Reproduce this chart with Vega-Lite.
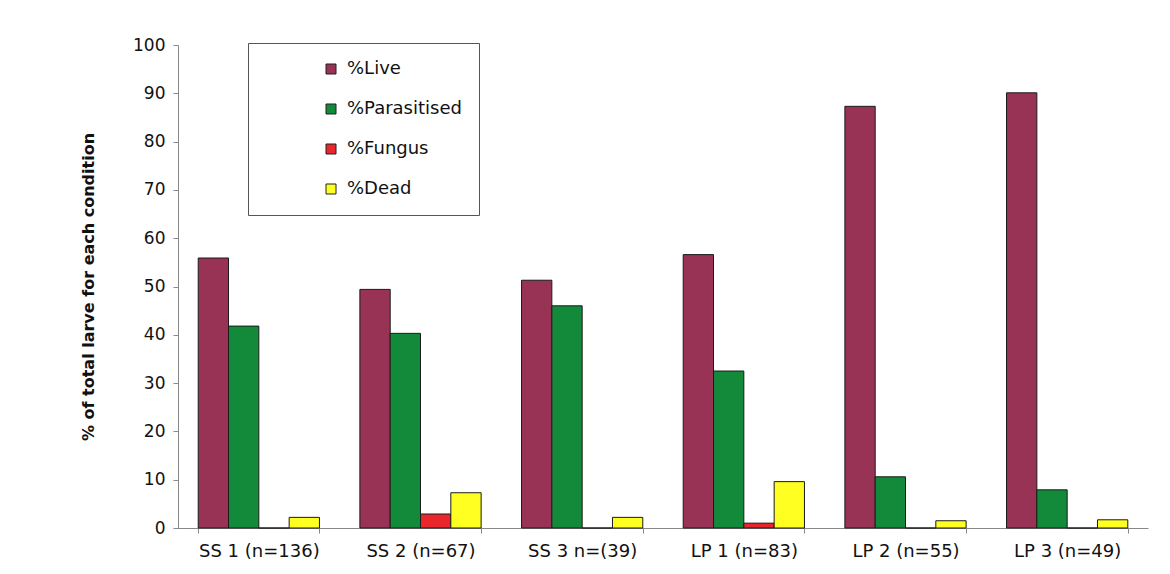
{
  "$schema": "https://vega.github.io/schema/vega-lite/v6.json",
  "autosize": {"type": "none"},
  "padding": {"left": 178, "top": 45, "right": 22, "bottom": 46},
  "width": 970,
  "height": 483,
  "background": "white",
  "config": {
    "font": "DejaVu Sans",
    "view": {"stroke": null}
  },
  "data": {
    "values": [
      {"condition": "SS 1 (n=136)", "category": "%Live", "value": 55.9},
      {"condition": "SS 1 (n=136)", "category": "%Parasitised", "value": 41.8},
      {"condition": "SS 1 (n=136)", "category": "%Fungus", "value": 0},
      {"condition": "SS 1 (n=136)", "category": "%Dead", "value": 2.2},
      {"condition": "SS 2 (n=67)", "category": "%Live", "value": 49.4},
      {"condition": "SS 2 (n=67)", "category": "%Parasitised", "value": 40.3},
      {"condition": "SS 2 (n=67)", "category": "%Fungus", "value": 2.9},
      {"condition": "SS 2 (n=67)", "category": "%Dead", "value": 7.3},
      {"condition": "SS 3 n=(39)", "category": "%Live", "value": 51.3},
      {"condition": "SS 3 n=(39)", "category": "%Parasitised", "value": 46.0},
      {"condition": "SS 3 n=(39)", "category": "%Fungus", "value": 0},
      {"condition": "SS 3 n=(39)", "category": "%Dead", "value": 2.2},
      {"condition": "LP 1 (n=83)", "category": "%Live", "value": 56.6},
      {"condition": "LP 1 (n=83)", "category": "%Parasitised", "value": 32.5},
      {"condition": "LP 1 (n=83)", "category": "%Fungus", "value": 1.0},
      {"condition": "LP 1 (n=83)", "category": "%Dead", "value": 9.6},
      {"condition": "LP 2 (n=55)", "category": "%Live", "value": 87.3},
      {"condition": "LP 2 (n=55)", "category": "%Parasitised", "value": 10.6},
      {"condition": "LP 2 (n=55)", "category": "%Fungus", "value": 0},
      {"condition": "LP 2 (n=55)", "category": "%Dead", "value": 1.5},
      {"condition": "LP 3 (n=49)", "category": "%Live", "value": 90.1},
      {"condition": "LP 3 (n=49)", "category": "%Parasitised", "value": 7.9},
      {"condition": "LP 3 (n=49)", "category": "%Fungus", "value": 0},
      {"condition": "LP 3 (n=49)", "category": "%Dead", "value": 1.7}
    ]
  },
  "mark": {"type": "bar", "stroke": "#1a1a1a", "strokeWidth": 1},
  "encoding": {
    "x": {
      "field": "condition",
      "type": "nominal",
      "sort": ["SS 1 (n=136)", "SS 2 (n=67)", "SS 3 n=(39)", "LP 1 (n=83)", "LP 2 (n=55)", "LP 3 (n=49)"],
      "scale": {"paddingInner": 0.25, "paddingOuter": 0.125},
      "axis": {
        "title": null,
        "labelAngle": 0,
        "labelFontSize": 18,
        "labelColor": "#111",
        "labelPadding": 9,
        "tickBand": "extent",
        "tickSize": 5,
        "tickColor": "#888",
        "domainColor": "#888"
      }
    },
    "xOffset": {
      "field": "category",
      "type": "nominal",
      "sort": ["%Live", "%Parasitised", "%Fungus", "%Dead"],
      "scale": {"paddingInner": 0, "paddingOuter": 0}
    },
    "y": {
      "field": "value",
      "type": "quantitative",
      "scale": {"domain": [0, 100], "nice": false},
      "axis": {
        "title": "% of total larve for each condition",
        "titleFontSize": 16,
        "titleFontWeight": "bold",
        "titleColor": "#111",
        "titlePadding": 36,
        "values": [0, 10, 20, 30, 40, 50, 60, 70, 80, 90, 100],
        "labelFontSize": 17,
        "labelColor": "#111",
        "labelPadding": 8,
        "tickSize": 5,
        "tickColor": "#888",
        "domainColor": "#888",
        "grid": false
      }
    },
    "color": {
      "field": "category",
      "type": "nominal",
      "sort": ["%Live", "%Parasitised", "%Fungus", "%Dead"],
      "scale": {
        "domain": ["%Live", "%Parasitised", "%Fungus", "%Dead"],
        "range": ["#993355", "#138a3a", "#e8262b", "#ffff22"]
      },
      "legend": {
        "title": null,
        "orient": "none",
        "legendX": 70,
        "legendY": -2,
        "fillColor": "white",
        "strokeColor": "#555",
        "padding": 17,
        "symbolType": "square",
        "symbolSize": 100,
        "symbolStrokeColor": "#222",
        "symbolStrokeWidth": 1,
        "symbolOffset": 57,
        "labelFontSize": 18,
        "labelColor": "#111",
        "labelOffset": 7,
        "labelLimit": 300,
        "rowPadding": 22
      }
    }
  }
}
